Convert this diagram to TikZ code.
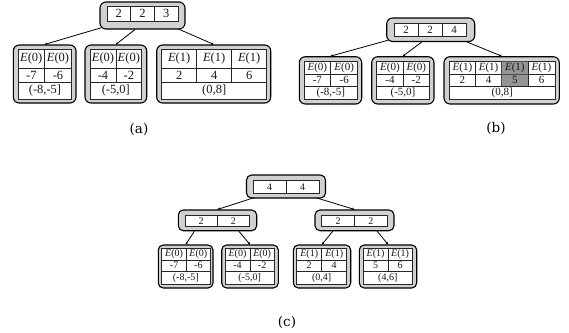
\documentclass[tikz,border=0pt]{standalone}
\usepackage{fontspec}
\setmainfont{Liberation Serif}
\newfontfamily\labfont{DejaVu Serif}
\usetikzlibrary{arrows.meta}
\newcommand{\bx}[6][]{\node[outer,#1, minimum width={(#4-#2)*1pt}, minimum height={(#5-#3)*1pt}] (#6) at ({(#2+#4)/2},{(#3+#5)/2}) {};}
\newcommand{\cl}[7][]{\node[cell,#1, minimum width={(#4-#2)*1pt}, minimum height={(#5-#3)*1pt}] (#7) at ({(#2+#4)/2},{(#3+#5)/2}) {#6};}
\tikzset{
  outer/.style={draw=black, line width=1.1pt, fill=black!18, rounded corners=6pt, inner sep=0pt},
  cell/.style={draw=black!85, line width=0.55pt, fill=white, inner sep=0pt, text=black!90},
  fa/.style={font=\fontsize{12.5}{14}\selectfont},
  fb/.style={font=\fontsize{11}{12}\selectfont},
  fc/.style={font=\fontsize{10}{11}\selectfont},
  hl/.style={fill=black!42, draw=black!70},
  conn/.style={draw=black, line width=0.8pt, -{Stealth[length=2.5pt,width=2.5pt]}},
  lab/.style={font=\labfont\fontsize{13.5}{16}\selectfont, inner sep=0pt}
}
\begin{document}
\begin{tikzpicture}[x=1pt,y=-1pt]
\useasboundingbox (0,0) rectangle (569,332);
% ---------------- (a)
\bx{100}{2}{185}{29}{ra}
\cl[fa]{107}{6.5}{130.7}{21}{2}{ra1}
\cl[fa]{130.7}{6.5}{154.3}{21}{2}{ra2}
\cl[fa]{154.3}{6.5}{178}{21}{3}{ra3}
\bx{13.3}{45}{76}{103}{a1}
\cl[fa]{18.3}{49.3}{44.3}{68.3}{\textit{E}(0)}{a1e1}
\cl[fa]{44.3}{49.3}{71.7}{68.3}{\textit{E}(0)}{a1e2}
\cl[fa]{18.3}{68.3}{44.3}{82.3}{-7}{a1n1}
\cl[fa]{44.3}{68.3}{71.7}{82.3}{-6}{a1n2}
\cl[fa]{18.3}{82.3}{71.7}{99}{(-8,-5]}{a1r}
\bx{85}{45}{146.7}{103}{a2}
\cl[fa]{90}{49.3}{116}{68.3}{\textit{E}(0)}{a2e1}
\cl[fa]{116}{49.3}{141.7}{68.3}{\textit{E}(0)}{a2e2}
\cl[fa]{90}{68.3}{116}{82.3}{-4}{a2n1}
\cl[fa]{116}{68.3}{141.7}{82.3}{-2}{a2n2}
\cl[fa]{90}{82.3}{141.7}{99}{(-5,0]}{a2r}
\bx{156.7}{45}{270.7}{103}{a3}
\cl[fa]{161.7}{49.3}{196.7}{68.3}{\textit{E}(1)}{a3e1}
\cl[fa]{196.7}{49.3}{231.7}{68.3}{\textit{E}(1)}{a3e2}
\cl[fa]{231.7}{49.3}{266.7}{68.3}{\textit{E}(1)}{a3e3}
\cl[fa]{161.7}{68.3}{196.7}{82.3}{2}{a3n1}
\cl[fa]{196.7}{68.3}{231.7}{82.3}{4}{a3n2}
\cl[fa]{231.7}{68.3}{266.7}{82.3}{6}{a3n3}
\cl[fa]{161.7}{82.3}{266.7}{99}{(0,8]}{a3r}
\draw[conn] ([xshift=1.8pt,yshift=1.8pt]ra.south west) -- (a1.north);
\draw[conn] ([xshift=-7.5pt]ra.south) -- (a2.north);
\draw[conn] ([xshift=-7pt,yshift=0.5pt]ra.south east) -- (a3.north);
\node[lab] (la) at (139,129) {(a)};
% ---------------- (b)
\bx{386.7}{18}{474.7}{41.5}{rb}
\cl[fb]{394}{23.3}{418}{36.7}{2}{rb1}
\cl[fb]{418}{23.3}{442}{36.7}{2}{rb2}
\cl[fb]{442}{23.3}{466}{36.7}{4}{rb3}
\bx{299.3}{56.7}{361.7}{104}{b1}
\cl[fb]{304}{61}{330.7}{74}{\textit{E}(0)}{b1e1}
\cl[fb]{330.7}{61}{357.7}{74}{\textit{E}(0)}{b1e2}
\cl[fb]{304}{74}{330.7}{86}{-7}{b1n1}
\cl[fb]{330.7}{74}{357.7}{86}{-6}{b1n2}
\cl[fb]{304}{86}{357.7}{99.3}{(-8,-5]}{b1r}
\bx{371.7}{56.7}{434}{104}{b2}
\cl[fb]{376.7}{61}{403.3}{74}{\textit{E}(0)}{b2e1}
\cl[fb]{403.3}{61}{429.3}{74}{\textit{E}(0)}{b2e2}
\cl[fb]{376.7}{74}{403.3}{86}{-4}{b2n1}
\cl[fb]{403.3}{74}{429.3}{86}{-2}{b2n2}
\cl[fb]{376.7}{86}{429.3}{99.3}{(-5,0]}{b2r}
\bx{444}{56.7}{559.3}{104}{b3}
\cl[fb]{449.3}{61}{475.5}{74}{\textit{E}(1)}{b3e1}
\cl[fb]{475.5}{61}{501.7}{74}{\textit{E}(1)}{b3e2}
\cl[fb,hl]{501.7}{61}{528}{74}{\textit{E}(1)}{b3e3}
\cl[fb]{528}{61}{555}{74}{\textit{E}(1)}{b3e4}
\cl[fb]{449.3}{74}{475.5}{86}{2}{b3n1}
\cl[fb]{475.5}{74}{501.7}{86}{4}{b3n2}
\cl[fb,hl]{501.7}{74}{528}{86}{5}{b3n3}
\cl[fb]{528}{74}{555}{86}{6}{b3n4}
\cl[fb]{449.3}{86}{555}{99.3}{(0,8]}{b3r}
\draw[conn] ([xshift=1.8pt,yshift=1.8pt]rb.south west) -- (b1.north);
\draw[conn] ([xshift=-9pt]rb.south) -- (b2.north);
\draw[conn] ([xshift=-8pt]rb.south east) -- (b3.north);
\node[lab] (lb) at (496,128) {(b)};
% ---------------- (c)
\bx[rounded corners=5pt]{246.5}{175}{325.5}{198}{rc}
\cl[fc]{253}{180.5}{286}{193}{4}{rc1}
\cl[fc]{286}{180.5}{319}{193}{4}{rc2}
\bx[rounded corners=5pt]{178.3}{210}{256.7}{230.7}{ml}
\cl[fc]{185}{215}{217.3}{226.7}{2}{ml1}
\cl[fc]{217.3}{215}{249.3}{226.7}{2}{ml2}
\bx[rounded corners=5pt]{315}{210}{394}{230.7}{mr}
\cl[fc]{321.7}{215}{354.5}{226.7}{2}{mr1}
\cl[fc]{354.5}{215}{387.3}{226.7}{2}{mr2}
% leaves
\bx[rounded corners=5pt]{158.3}{245}{213}{288}{c1}
\cl[fc]{161.5}{248.5}{186.7}{260}{\textit{E}(0)}{c1e1}
\cl[fc]{186.7}{248.5}{210}{260}{\textit{E}(0)}{c1e2}
\cl[fc]{161.5}{260}{186.7}{271}{-7}{c1n1}
\cl[fc]{186.7}{260}{210}{271}{-6}{c1n2}
\cl[fc]{161.5}{271}{210}{284.5}{(-8,-5]}{c1r}
\bx[rounded corners=5pt]{221.7}{245}{278.3}{288}{c2}
\cl[fc]{225}{248.5}{250}{260}{\textit{E}(0)}{c2e1}
\cl[fc]{250}{248.5}{274.3}{260}{\textit{E}(0)}{c2e2}
\cl[fc]{225}{260}{250}{271}{-4}{c2n1}
\cl[fc]{250}{260}{274.3}{271}{-2}{c2n2}
\cl[fc]{225}{271}{274.3}{284.5}{(-5,0]}{c2r}
\bx[rounded corners=5pt]{293.3}{245}{350.7}{288}{c3}
\cl[fc]{296.7}{248.5}{321.7}{260}{\textit{E}(1)}{c3e1}
\cl[fc]{321.7}{248.5}{346.7}{260}{\textit{E}(1)}{c3e2}
\cl[fc]{296.7}{260}{321.7}{271}{2}{c3n1}
\cl[fc]{321.7}{260}{346.7}{271}{4}{c3n2}
\cl[fc]{296.7}{271}{346.7}{284.5}{(0,4]}{c3r}
\bx[rounded corners=5pt]{359.3}{245}{416.7}{288}{c4}
\cl[fc]{363.3}{248.5}{387.8}{260}{\textit{E}(1)}{c4e1}
\cl[fc]{387.8}{248.5}{412.3}{260}{\textit{E}(1)}{c4e2}
\cl[fc]{363.3}{260}{387.8}{271}{5}{c4n1}
\cl[fc]{387.8}{260}{412.3}{271}{6}{c4n2}
\cl[fc]{363.3}{271}{412.3}{284.5}{(4,6]}{c4r}
\draw[conn] ([xshift=8.5pt,yshift=1pt]rc.south west) -- (ml.north);
\draw[conn] ([xshift=-9pt,yshift=0.5pt]rc.south east) -- (mr.north);
\draw[conn] ([xshift=16.7pt]ml.south west) -- (c1.north);
\draw[conn] ([xshift=-18.4pt]ml.south east) -- (c2.north);
\draw[conn] ([xshift=18.3pt]mr.south west) -- (c3.north);
\draw[conn] ([xshift=-17.3pt]mr.south east) -- (c4.north);
\node[lab] (lc) at (287,322) {(c)};
\end{tikzpicture}
\end{document}
